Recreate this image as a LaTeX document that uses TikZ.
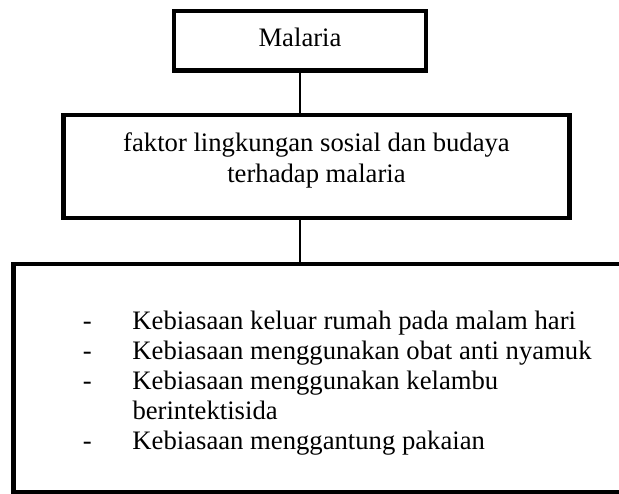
\documentclass[tikz,border=0pt]{standalone}
\usepackage{fontspec}
\setmainfont{Liberation Serif}

\begin{document}
\begin{tikzpicture}[x=0.45pt,y=-0.45pt]
\tikzstyle{every node}=[font=\fontsize{12}{13.6}\selectfont]
\tikzstyle{kotak}=[draw, rectangle, line width=2pt, inner sep=0pt, align=center]
\tikzstyle{garis}=[line width=0.7pt]
\useasboundingbox (0,0) rectangle (619,494);
\draw (300,40.75) node (malaria) [kotak, minimum width=113.6pt, minimum height=26.8pt, text depth=2.8pt] {Malaria};
\draw (316.5,166.5) node (faktor) [kotak, minimum width=227.7pt, minimum height=46.4pt] {};
\draw (faktor.center) ++(0,-6) node (faktorteks) [align=center] {faktor lingkungan sosial dan budaya\\terhadap malaria};
\draw (331.75,378) node (kebiasaan) [kotak, minimum width=286.4pt, minimum height=102.6pt] {};
\draw (82.5,329) node (daftar) [anchor=base west, inner sep=0pt]
  {\begin{tabular}[t]{@{}p{22.3pt}@{}l@{}}
  - & Kebiasaan keluar rumah pada malam hari\\
  - & Kebiasaan menggunakan obat anti nyamuk\\
  - & Kebiasaan menggunakan kelambu\\
    & berintektisida\\
  - & Kebiasaan menggantung pakaian
  \end{tabular}};
\draw[garis] (malaria) -- (malaria |- faktor.north);
\draw[garis] (malaria |- faktor.south) -- (malaria |- kebiasaan.north);
\end{tikzpicture}
\end{document}
